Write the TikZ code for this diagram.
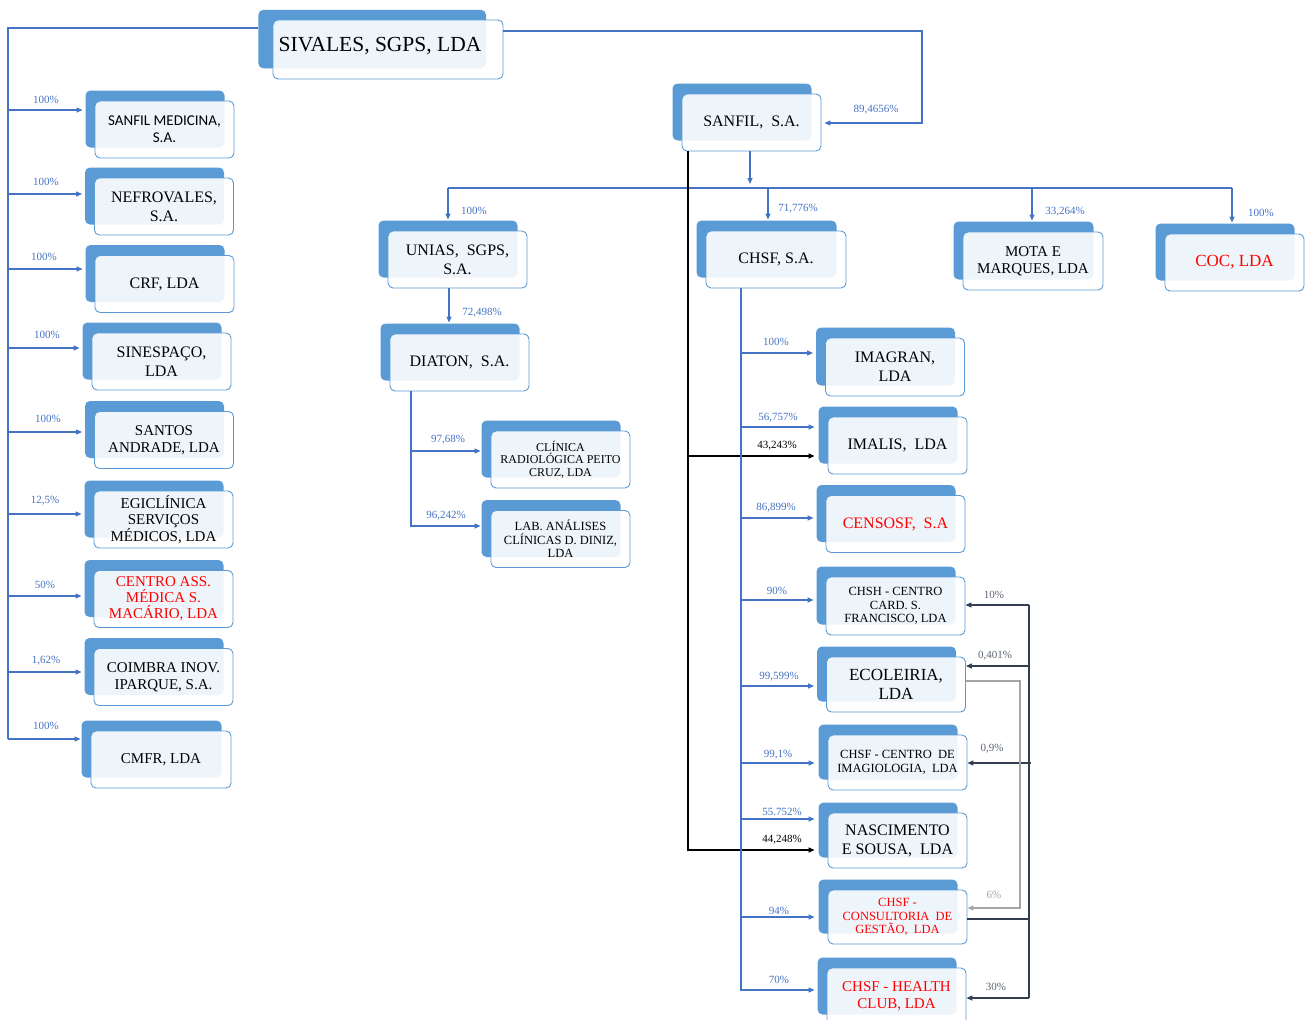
\documentclass[tikz,border=0pt]{standalone}
\usepackage{fontspec}
\setmainfont{Liberation Serif}
\newfontfamily\calibfont{Carlito}
\usetikzlibrary{arrows.meta,calc,shadows}
\definecolor{backblue}{HTML}{5B9BD5}
\definecolor{edgeblue}{HTML}{5B9BD5}
\definecolor{lineblue}{HTML}{4472C4}
\definecolor{pctblue}{HTML}{4472C4}
\definecolor{darkline}{HTML}{333F50}
\definecolor{grayline}{HTML}{A5A5A5}
\definecolor{redtext}{HTML}{FF0000}
\tikzset{
  cbox/.style={draw=edgeblue, line width=0.9pt, rounded corners=5pt, fill=white,
    fill opacity=0.9, text opacity=1, align=center, inner sep=1pt,
    minimum width=139pt, minimum height=57pt,
    general shadow={fill=backblue, draw=none, fill opacity=1, shadow xshift=-9.5pt, shadow yshift=10.5pt}},
  topbox/.style={draw=edgeblue, line width=0.9pt, rounded corners=5pt, fill=white,
    fill opacity=0.9, text opacity=1, align=center, inner sep=1pt,
    general shadow={fill=backblue, draw=none, fill opacity=1, shadow xshift=-16pt, shadow yshift=10.5pt, shadow scale=0.99}},
  fA/.style={font=\fontsize{21.5}{24}\selectfont},
  fB/.style={font=\fontsize{16}{19}\selectfont},
  fBB/.style={font=\fontsize{17}{19}\selectfont},
  fC/.style={font=\fontsize{15}{17}\selectfont},
  fCc/.style={font=\fontsize{15}{16}\selectfont},
  fD/.style={font=\fontsize{12.5}{13.5}\selectfont},
  fE/.style={font=\fontsize{12}{12.5}\selectfont},
  red/.style={text=redtext},
  pct/.style={font=\fontsize{11}{12}\selectfont, text=pctblue, inner sep=0pt},
  pctk/.style={font=\fontsize{11}{12}\selectfont, text=black, inner sep=0pt},
  pctd/.style={font=\fontsize{11}{12}\selectfont, text=darkline!80, inner sep=0pt},
  pctg/.style={font=\fontsize{11}{12}\selectfont, text=grayline, inner sep=0pt},
  ln/.style={lineblue, line width=1.2pt},
  arr/.style={lineblue, line width=1.2pt, -{Triangle[length=6pt,width=5pt]}},
  blk/.style={black, line width=1.8pt, -{Triangle[length=6pt,width=5pt]}},
  dk/.style={darkline, line width=1.3pt},
  dkarr/.style={darkline, line width=1.3pt, -{Triangle[length=6pt,width=5pt]}},
  grarr/.style={grayline, line width=1.2pt, -{Triangle[length=6pt,width=5pt]}},
}
\begin{document}
\begin{tikzpicture}[x=1pt,y=-1pt]
\useasboundingbox (0,0) rectangle (1312,1020);
% ---- boxes ----
\node[topbox, fA, minimum width=230pt, minimum height=59pt] (sivales) at (388,49.5) {\hspace*{-16pt}\raisebox{3.5pt}[\height][\depth]{SIVALES, SGPS, LDA}};
% left column
\node[cbox, font=\calibfont\fontsize{15}{17}\selectfont] (sanfilmed) at (164.5,129.5) {SANFIL MEDICINA,\\S.A.};
\node[cbox, fB] (nefro) at (164,206.5) {NEFROVALES,\\S.A.};
\node[cbox, fB] (crf) at (164.5,284) {CRF, LDA};
\node[cbox, fB] (sines) at (161.5,361.5) {SINESPAÇO,\\LDA};
\node[cbox, fC] (santos) at (164,440) {SANTOS\\ANDRADE, LDA};
\node[cbox, fCc] (egi) at (163.5,519.5) {EGICLÍNICA\\SERVIÇOS\\MÉDICOS, LDA};
\node[cbox, fCc, red] (centro) at (163.5,599) {CENTRO ASS.\\MÉDICA S.\\MACÁRIO, LDA};
\node[cbox, fC] (coimbra) at (163.5,677) {COIMBRA INOV.\\IPARQUE, S.A.};
\node[cbox, fC, minimum width=140pt] (cmfr) at (161,759.5) {CMFR, LDA};
% middle column
\node[cbox, fB] (unias) at (457.5,259.5) {UNIAS,\ \ SGPS,\\S.A.};
\node[cbox, fB] (diaton) at (459.5,362.5) {DIATON,\ \ S.A.};
\node[cbox, fE] (clinica) at (560.5,459.5) {CLÍNICA\\RADIOLÓGICA PEITO\\CRUZ, LDA};
\node[cbox, fD] (lab) at (560.5,539) {LAB. ANÁLISES\\CLÍNICAS D. DINIZ,\\LDA};
% top right
\node[cbox, fB] (sanfil) at (751.5,122.5) {SANFIL,\ \ S.A.};
\node[cbox, fB, minimum width=140pt] (chsf) at (776,259.5) {CHSF, S.A.};
\node[cbox, fC, minimum width=140pt, minimum height=58pt] (mota) at (1033,261) {MOTA E\\MARQUES, LDA};
\node[cbox, font=\fontsize{17}{19}\selectfont, red] (coc) at (1234.5,262.5) {COC, LDA};
% right column
\node[cbox, fB, minimum height=58pt] (imagran) at (895,367) {IMAGRAN,\\LDA};
\node[cbox, fB] (imalis) at (897.5,445.5) {IMALIS,\ \ LDA};
\node[cbox, fB, red] (censosf) at (895.5,524) {CENSOSF,\ \ S.A};
\node[cbox, fD, minimum height=58pt] (chsh) at (895.5,606) {CHSH - CENTRO\\CARD. S.\\FRANCISCO, LDA};
\node[cbox, fBB, minimum height=55pt] (ecoleiria) at (896,684.5) {ECOLEIRIA,\\LDA};
\node[cbox, font=\fontsize{12.5}{14}\selectfont, minimum height=55pt] (imagio) at (897.5,762.5) {CHSF - CENTRO\ \ DE\\IMAGIOLOGIA,\ \ LDA};
\node[cbox, fB, minimum height=55pt] (nasc) at (897.5,840.5) {NASCIMENTO\\E SOUSA,\ \ LDA};
\node[cbox, fD, red, minimum height=54pt] (consult) at (897.5,917) {CHSF -\\CONSULTORIA\ \ DE\\GESTÃO,\ \ LDA};
\node[cbox, fC, red] (health) at (896.5,996.5) {CHSF - HEALTH\\CLUB, LDA};
% ---- connectors: SIVALES ----
\coordinate (trunkL) at (8,28);
\draw[ln] ($(sivales.west |- 0,28)+(-15,0)$) -- (trunkL) -- (8,739);
\draw[arr] (trunkL |- 0,110) -- ($(sanfilmed.west |- 0,110)+(-12,0)$);
\draw[arr] (trunkL |- 0,194) -- ($(nefro.west |- 0,194)+(-12,0)$);
\draw[arr] (trunkL |- 0,269) -- ($(crf.west |- 0,269)+(-12,0)$);
\draw[arr] (trunkL |- 0,348) -- ($(sines.west |- 0,348)+(-12,0)$);
\draw[arr] (trunkL |- 0,432) -- ($(santos.west |- 0,432)+(-12,0)$);
\draw[arr] (trunkL |- 0,514) -- ($(egi.west |- 0,514)+(-12,0)$);
\draw[arr] (trunkL |- 0,596) -- ($(centro.west |- 0,596)+(-12,0)$);
\draw[arr] (trunkL |- 0,672) -- ($(coimbra.west |- 0,672)+(-12,0)$);
\draw[arr] (trunkL |- 0,739) -- ($(cmfr.west |- 0,739)+(-10,0)$);
\draw[arr] (sivales.east |- 0,31) -| (922,123) -- ($(sanfil.east |- 0,123)+(3,0)$);
% ---- SANFIL ----
\draw[arr] (sanfil.south -| 750,0) -- (750,184);
\draw[ln] (448,188) -- (1232,188);
\draw[arr] (448,188) -- ($(unias.north -| 448,0)+(0,-11)$);
\draw[arr] (768,188) -- ($(chsf.north -| 768,0)+(0,-11)$);
\draw[arr] (1032,188) -- ($(mota.north -| 1032,0)+(0,-11)$);
\draw[arr] (1232,188) -- ($(coc.north -| 1232,0)+(0,-11)$);
\draw[blk] (sanfil.south -| 688,0) -- (688,850) -- ($(nasc.west |- 0,850)+(-13,0)$);
\draw[blk] (688,456) -- ($(imalis.west |- 0,456)+(-13,0)$);
% ---- UNIAS / DIATON ----
\draw[arr] (unias.south -| 449,0) -- ($(diaton.north -| 449,0)+(0,-11)$);
\draw[arr] (diaton.south -| 411,0) -- (411,526) -- ($(lab.west |- 0,526)+(-10,0)$);
\draw[arr] (411,451) -- ($(clinica.west |- 0,451)+(-10,0)$);
% ---- CHSF ----
\draw[arr] (chsf.south -| 741,0) -- (741,990) -- ($(health.west |- 0,990)+(-12,0)$);
\draw[arr] (741,353) -- ($(imagran.west |- 0,353)+(-12,0)$);
\draw[arr] (741,427) -- ($(imalis.west |- 0,427)+(-13,0)$);
\draw[arr] (741,518) -- ($(censosf.west |- 0,518)+(-12,0)$);
\draw[arr] (741,600) -- ($(chsh.west |- 0,600)+(-12,0)$);
\draw[arr] (741,686) -- ($(ecoleiria.west |- 0,686)+(-12,0)$);
\draw[arr] (741,763) -- ($(imagio.west |- 0,763)+(-13,0)$);
\draw[arr] (741,819) -- ($(nasc.west |- 0,819)+(-13,0)$);
\draw[arr] (741,917) -- ($(consult.west |- 0,917)+(-13,0)$);
% ---- cross holdings ----
\draw[dk] (consult.east |- 0,919) -- (1029,919);
\draw[dk] (1029,605) -- (1029,998);
\draw[dkarr] (1029,605) -- (chsh.east |- 0,605);
\draw[dkarr] (1029,666) -- (ecoleiria.east |- 0,666);
\draw[dkarr] (1031,763) -- (imagio.east |- 0,763);
\draw[dkarr] (1029,998) -- (health.east |- 0,998);
\draw[grarr] (ecoleiria.east |- 0,681) -| (1020,908) -- (consult.east |- 0,908);
% ---- labels ----
\node[pct] (l1) at (46,100) {100\%};
\node[pct] (l2) at (46,182) {100\%};
\node[pct] (l3) at (44,257) {100\%};
\node[pct] (l4) at (47,335) {100\%};
\node[pct] (l5) at (48,419) {100\%};
\node[pct] (l6) at (45,501) {12,5\%};
\node[pct] (l7) at (45,585) {50\%};
\node[pct] (l8) at (46,661) {1,62\%};
\node[pct] (l9) at (46,726) {100\%};
\node[pct] (t1) at (876,110) {89,4656\%};
\node[pct] (t2) at (474,211) {100\%};
\node[pct] (t3) at (798,209) {71,776\%};
\node[pct] (t4) at (1065,212) {33,264\%};
\node[pct] (t5) at (1261,213) {100\%};
\node[pct] (m1) at (482,313) {72,498\%};
\node[pct] (m2) at (448,440) {97,68\%};
\node[pct] (m3) at (446,516) {96,242\%};
\node[pct] (r1) at (776,342) {100\%};
\node[pct] (r2) at (778,418) {56,757\%};
\node[pctk] (r3) at (777,446) {43,243\%};
\node[pct] (r4) at (776,508) {86,899\%};
\node[pct] (r5) at (777,591) {90\%};
\node[pct] (r6) at (779,677) {99,599\%};
\node[pct] (r7) at (778,755) {99,1\%};
\node[pct] (r8) at (782,812) {55.752\%};
\node[pctk] (r9) at (782,840) {44,248\%};
\node[pct] (r10) at (779,911) {94\%};
\node[pct] (r11) at (779,980) {70\%};
\node[pctd] (d1) at (994,595) {10\%};
\node[pctd] (d2) at (995,656) {0,401\%};
\node[pctd] (d3) at (992,749) {0,9\%};
\node[pctg] (d4) at (994,895) {6\%};
\node[pctd] (d5) at (996,987) {30\%};
\end{tikzpicture}
\end{document}
